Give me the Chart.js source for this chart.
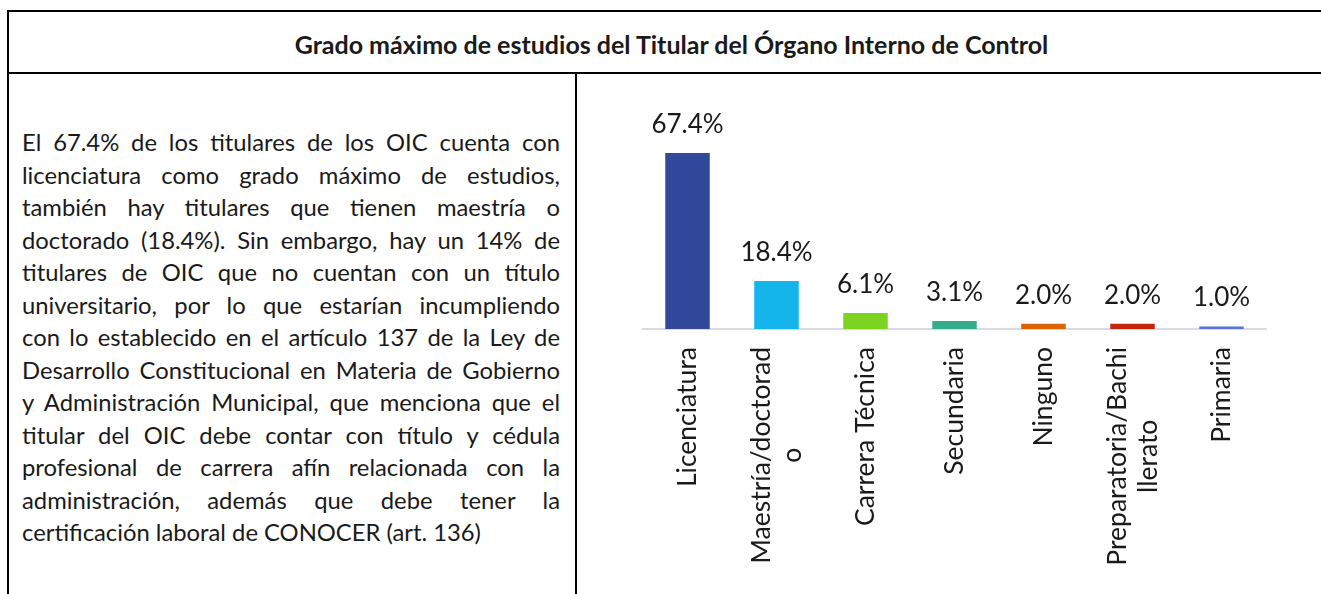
<!DOCTYPE html>
<html lang="es">
<head>
<meta charset="utf-8">
<script src="https://cdn.jsdelivr.net/npm/chart.js@4.4.1/dist/chart.umd.min.js"></script>
<style>
  html, body { margin: 0; padding: 0; background: #fff; }
  body { width: 1321px; height: 594px; position: relative; overflow: hidden; font-family: Lato, "Noto Sans", sans-serif; color: #1a1a1a; }
  .linea { position: absolute; background: #000; }
  #titulo { position: absolute; left: 0; width: 1343px; top: 29px; text-align: center; font-weight: bold; font-size: 25px; line-height: 30px; }
  #texto { position: absolute; left: 22px; top: 126px; width: 538px; font-size: 23.8px; line-height: 32.5px; }
  #texto div { text-align: justify; text-align-last: justify; white-space: nowrap; }
  #texto div.ultima { text-align-last: left; }
  #lienzo { position: absolute; left: 633px; top: 90px; width: 650px; height: 504px; }
</style>
</head>
<body>
<div class="linea" style="left:7px; top:10px; width:1314px; height:2px;"></div>
<div class="linea" style="left:7px; top:72px; width:1314px; height:2px;"></div>
<div class="linea" style="left:7px; top:10px; width:2px; height:584px;"></div>
<div class="linea" style="left:575px; top:72px; width:2px; height:522px;"></div>

<div id="titulo">Grado máximo de estudios del Titular del Órgano Interno de Control</div>
<div id="texto"></div>
<div id="lienzo"><canvas id="grafica"></canvas></div>

<script>
// datos
var categorias = ['Licenciatura', 'Maestría/doctorado', 'Carrera Técnica', 'Secundaria', 'Ninguno', 'Preparatoria/Bachillerato', 'Primaria'];
var etiquetas = [['Licenciatura'], ['Maestría/doctorad', 'o'], ['Carrera Técnica'], ['Secundaria'], ['Ninguno'], ['Preparatoria/Bachi', 'llerato'], ['Primaria']];
var porcentajes = [67.4, 18.4, 6.1, 3.1, 2.0, 2.0, 1.0];
var colores = ['#31489B', '#13B5EA', '#7ED321', '#33AC8C', '#DD6302', '#C8250F', '#5B73D8'];

// texto de la izquierda, una linea por renglon como en el original
var renglones = [
  'El 67.4% de los titulares de los OIC cuenta con',
  'licenciatura como grado máximo de estudios,',
  'también hay titulares que tienen maestría o',
  'doctorado (18.4%). Sin embargo, hay un 14% de',
  'titulares de OIC que no cuentan con un título',
  'universitario, por lo que estarían incumpliendo',
  'con lo establecido en el artículo 137 de la Ley de',
  'Desarrollo Constitucional en Materia de Gobierno',
  'y Administración Municipal, que menciona que el',
  'titular del OIC debe contar con título y cédula',
  'profesional de carrera afín relacionada con la',
  'administración, además que debe tener la',
  'certificación laboral de CONOCER (art. 136)'
];
var caja = document.getElementById('texto');
renglones.forEach(function (r, i) {
  var d = document.createElement('div');
  d.textContent = r;
  if (i === renglones.length - 1) d.className = 'ultima';
  caja.appendChild(d);
});

var fuente = 'Lato, "Noto Sans", sans-serif';

// etiqueta de porcentaje arriba de cada barra
var valoresArriba = {
  id: 'valoresArriba',
  afterDatasetsDraw: function (chart) {
    var ctx = chart.ctx;
    var meta = chart.getDatasetMeta(0);
    ctx.save();
    ctx.font = '26px ' + fuente;
    ctx.fillStyle = '#1a1a1a';
    ctx.textAlign = 'center';
    ctx.textBaseline = 'alphabetic';
    meta.data.forEach(function (barra, i) {
      ctx.fillText(porcentajes[i].toFixed(1) + '%', barra.x, barra.y - 20);
    });
    ctx.restore();
  }
};

// categorias giradas, renglones centrados entre si como en Excel
var categoriasGiradas = {
  id: 'categoriasGiradas',
  afterDraw: function (chart) {
    var ctx = chart.ctx;
    var escala = chart.scales.x;
    var alto = 31;
    ctx.save();
    ctx.font = '26.5px ' + fuente;
    ctx.fillStyle = '#1a1a1a';
    ctx.textAlign = 'center';
    ctx.textBaseline = 'middle';
    etiquetas.forEach(function (lineas, i) {
      var x = escala.getPixelForTick(i);
      var y0 = escala.top + 18;
      var ancho = Math.max.apply(null, lineas.map(function (l) { return ctx.measureText(l).width; }));
      lineas.forEach(function (l, j) {
        var lx = x + (j - (lineas.length - 1) / 2) * alto;
        ctx.save();
        ctx.translate(lx, y0 + ancho / 2);
        ctx.rotate(-Math.PI / 2);
        ctx.fillText(l, 0, 0);
        ctx.restore();
      });
    });
    ctx.restore();
  }
};

var ctx = document.getElementById('grafica');
var grafica = new Chart(ctx, {
  type: 'bar',
  data: {
    labels: etiquetas,
    datasets: [{
      data: porcentajes,
      backgroundColor: colores,
      borderWidth: 0,
      categoryPercentage: 1,
      barPercentage: 0.5
    }]
  },
  options: {
    responsive: true,
    maintainAspectRatio: false,
    animation: false,
    layout: { padding: { top: 30, left: 10, right: 17, bottom: 0 } },
    plugins: {
      legend: { display: false },
      tooltip: { enabled: false }
    },
    scales: {
      x: {
        grid: { display: false, drawTicks: false },
        border: { display: true, color: '#D9D9EC', width: 2 },
        ticks: { display: false },
        afterFit: function (escala) { escala.height = 265; }
      },
      y: {
        display: false,
        min: 0,
        max: 80
      }
    }
  },
  plugins: [valoresArriba, categoriasGiradas]
});
</script>
</body>
</html>
